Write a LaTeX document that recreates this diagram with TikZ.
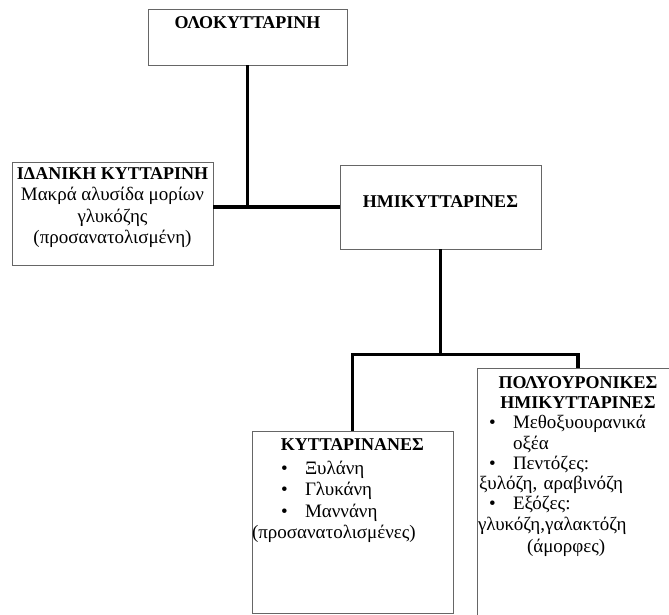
\documentclass[tikz,border=0pt]{standalone}
\usepackage{fontspec}
\setmainfont{Liberation Serif}
\usepackage{tikz}
\usetikzlibrary{calc}

\newcommand{\bulletline}[3]{\hspace*{#1}\makebox[#2][l]{\textbullet}#3}

\tikzset{
	box/.style={draw=black!60, line width=0.9pt, inner sep=0pt},
	conn/.style={line width=3.6pt, line join=miter},
	txt/.style={inner sep=0pt, anchor=north, font=\fontsize{19}{21.5}\selectfont},
	head/.style={txt, font=\fontsize{18}{21.5}\selectfont\bfseries}
}

\begin{document}
\begin{tikzpicture}[x=1pt,y=-1pt]
			\useasboundingbox (0,0) rectangle (669,615);
			% Κουτιά
			\node[box, minimum width=199pt, minimum height=56pt] (olo) at (247.5,37) {};
			\node[box, minimum width=201pt, minimum height=103pt] (ideal) at (112.5,213.5) {};
			\node[box, minimum width=201pt, minimum height=84pt] (hemi) at (440.5,207) {};
			\node[box, minimum width=201pt, minimum height=182pt] (kyt) at (352.5,522) {};
			\node[box, minimum width=202pt, minimum height=280pt] (poly) at (578,508) {};
			% Κείμενα
			\node[head] (olot) at ($(olo.north)+(0,8)$) {ΟΛΟΚΥΤΤΑΡΙΝΗ};
			\node[txt, align=center] (idealt) at ($(ideal.north)+(0,5.5)$)
				{{\fontsize{18}{21.5}\selectfont\bfseries ΙΔΑΝΙΚΗ ΚΥΤΤΑΡΙΝΗ}\\Μακρά αλυσίδα μορίων\\γλυκόζης\\(προσανατολισμένη)};
			\node[head] (hemit) at ($(hemi.north)+(0,31)$) {ΗΜΙΚΥΤΤΑΡΙΝΕΣ};
			\node[txt, align=left, text width=201pt] (kytt) at ($(kyt.north)+(0,7.5)$)
				{\makebox[201pt]{\fontsize{18}{21.5}\selectfont\bfseries ΚΥΤΤΑΡΙΝΑΝΕΣ}\\[2.5pt]
				\bulletline{29pt}{24pt}{Ξυλάνη}\\
				\bulletline{29pt}{24pt}{Γλυκάνη}\\
				\bulletline{29pt}{24pt}{Μαννάνη}\\
				(προσανατολισμένες)};
			\node[txt, align=left, text width=202pt, font=\fontsize{19}{20.3}\selectfont] (polyt) at ($(poly.north)+(0,8.5)$)
				{\makebox[202pt]{\fontsize{18}{20.3}\selectfont\bfseries ΠΟΛΥΟΥΡΟΝΙΚΕΣ}\\
				\makebox[202pt]{\fontsize{18}{20.3}\selectfont\bfseries ΗΜΙΚΥΤΤΑΡΙΝΕΣ}\\
				\bulletline{12pt}{24pt}{Μεθοξυουρανικά}\\
				\hspace*{36pt}οξέα\\
				\bulletline{12pt}{24pt}{Πεντόζες:}\\
				\hspace*{2pt}ξυλόζη, αραβινόζη\\
				\bulletline{12pt}{24pt}{Εξόζες:}\\
				\hspace*{1pt}γλυκόζη,γαλακτόζη\\[1.5pt]
				\hspace*{50pt}(άμορφες)};
			% Γραμμές σύνδεσης
			\coordinate (j1) at (olo.south |- hemi.west);
			\coordinate (j2) at ($(hemi.south)+(0,105)$);
			\draw[conn] (olo.south) -- (j1);
			\draw[conn] (ideal.east |- j1) -- (hemi.west);
			\draw[conn] (hemi.south) -- (j2);
			\draw[conn] (kyt.north) -- (kyt.north |- j2) -- (poly.north |- j2) -- (poly.north);
\end{tikzpicture}
\end{document}
